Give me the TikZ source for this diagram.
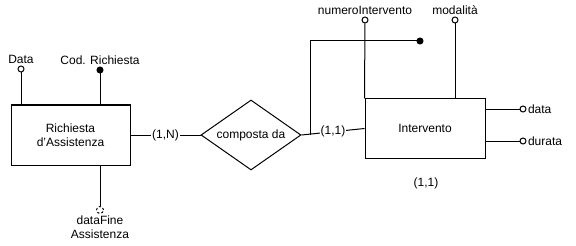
\documentclass[tikz,border=0pt]{standalone}
\usepackage{fontspec}
\setmainfont{Liberation Sans}
\usetikzlibrary{shapes.geometric}

\tikzset{
  entita/.style={draw, minimum width=119pt, minimum height=60pt, align=center, inner sep=0pt},
  relaz/.style={diamond, draw, aspect=1.43, minimum width=100pt, minimum height=70pt, inner sep=0pt},
  attr/.style={circle, draw, fill=white, inner sep=0pt, minimum size=6pt, label distance=0pt},
  chiave/.style={attr, fill=black},
  opz/.style={attr, minimum size=7pt, dash pattern=on 2.2pt off 2.2pt},
  card/.style={fill=white, inner sep=1pt}
}

\begin{document}
\begin{tikzpicture}[x=1pt, y=-1pt, line width=1pt,
    font=\fontsize{12}{14}\selectfont, every label/.style={inner sep=1pt}]
    \useasboundingbox (0,0) rectangle (576,246);
        % entita e relazione
        \node[entita] (rich) at (70.5,135) {Richiesta\\d'Assistenza};
        \node[relaz] (comp) at (251,135) {composta da};
        \node[entita, minimum width=120pt, minimum height=59pt] (int) at (425,128.5) {Intervento};
        \draw (rich.east) -- node[card] {(1,N)} (comp.west);
        \draw (comp.east) -- node[card] {(1,1)} (int.west);
        \node (cint) at (426,183) {(1,1)};
        % attributi di Richiesta
        \node[attr, label=above:Data] (data) at (21,69) {};
        \node[chiave, label=above:Cod. Richiesta] (cod) at (100,70) {};
        \node[opz, label={[align=center]below:dataFine\\Assistenza}] (fine) at (100,210) {};
        \draw (data) -- (data |- rich.north);
        \draw (cod) -- (cod |- rich.north);
        \draw (fine) -- (fine |- rich.south);
        % attributi di Intervento
        \node[attr, label=above:numeroIntervento] (numint) at (365,20) {};
        \node[attr, label=above:modalità] (mod) at (455,20) {};
        \node[attr, label=right:data] (dat) at (523,109) {};
        \node[attr, label=right:durata] (dur) at (523,141) {};
        \draw (numint) -- (int.north west);
        \draw (mod) -- (mod |- int.north);
        \draw (dat) -- (dat -| int.east);
        \draw (dur) -- (dur -| int.east);
        % identificatore esterno
        \coordinate (nodo) at (310,135);
        \node[chiave] (idest) at (420,41) {};
        \draw (nodo) |- (idest);
\end{tikzpicture}
\end{document}
